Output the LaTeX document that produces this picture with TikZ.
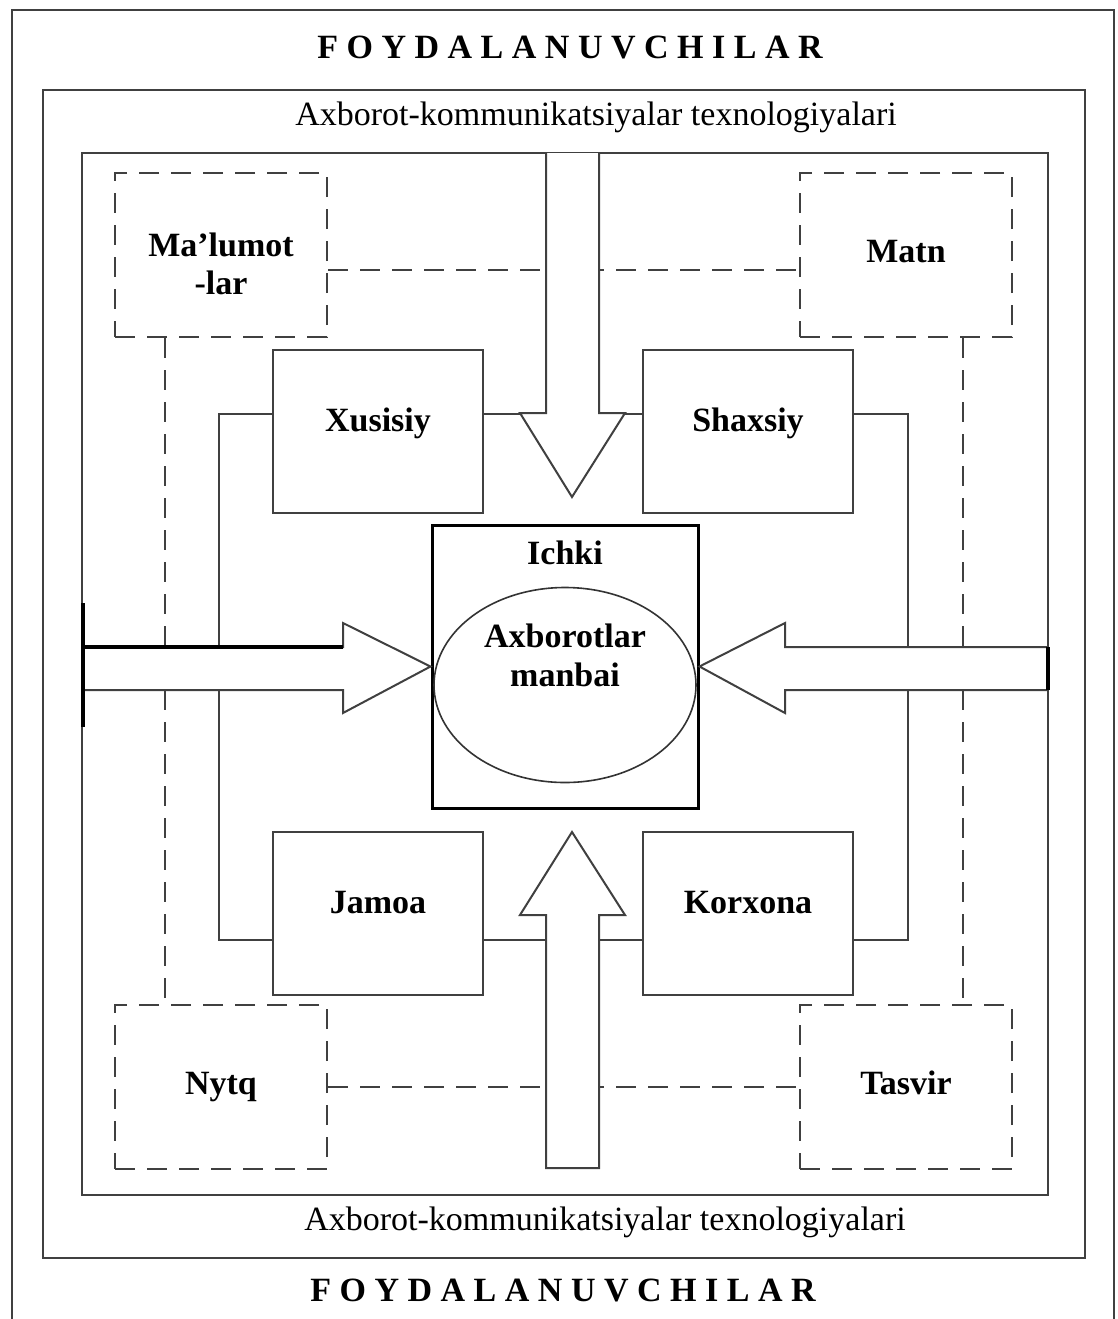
\documentclass[tikz,border=0pt]{standalone}
\usepackage{fontspec}
\setmainfont{Liberation Serif}
\usetikzlibrary{shapes.geometric}

\begin{document}
\begin{tikzpicture}[x=0.5pt,y=-0.5pt,
  line/.style={draw=black!75,line width=1pt},
  box/.style={line,rectangle,fill=white,inner sep=0pt,minimum width=105pt,minimum height=81.5pt,
    text height=12pt,text depth=12pt,align=center,font=\fontsize{17}{19}\selectfont\bfseries},
  dbox/.style={box,minimum width=106pt,minimum height=82pt,text depth=5pt,line width=1.3pt,dash pattern=on 10pt off 6pt},
  dline/.style={line,line width=1.3pt,dash pattern=on 10pt off 6pt},
  blk/.style={line,fill=white,line join=miter},
  foy/.style={font=\fontsize{17}{19}\selectfont\bfseries},
  akt/.style={font=\fontsize{17}{19}\selectfont}]
\useasboundingbox (0,0) rectangle (1118,1319);
% frames
\draw[line,line width=1.2pt] (12,1319) -- (12,10) -- (1114,10) -- (1114,1319);
\draw[line,line width=1.2pt] (43,90) rectangle (1085,1258);
\draw[line,line width=1.2pt] (82,153) rectangle (1048,1195);
\node[foy] (foyT) at (570,47) {F O Y D A L A N U V C H I L A R};
\node[foy] (foyB) at (563,1290) {F O Y D A L A N U V C H I L A R};
\node[akt] (aktT) at (596,117) {Axborot-kommunikatsiyalar texnologiyalari};
\node[akt] (aktB) at (605,1222) {Axborot-kommunikatsiyalar texnologiyalari};
% boxes
\node[dbox,text height=53pt,text depth=14pt] (mal) at (221,255) {Ma’lumot\\-lar};
\node[dbox] (mat) at (906,255) {Matn};
\node[dbox] (nyt) at (221,1087) {Nytq};
\node[dbox] (tas) at (906,1087) {Tasvir};
\node[box] (xus) at (378,431.5) {Xusisiy};
\node[box] (sha) at (748,431.5) {Shaxsiy};
\node[box] (jam) at (378,913.5) {Jamoa};
\node[box] (kor) at (748,913.5) {Korxona};
\node[box,draw=black,line width=1.5pt,minimum width=133pt,minimum height=141.5pt,
  label={[anchor=north,yshift=-5pt,font=\fontsize{17}{19}\selectfont\bfseries]north:Ichki}] (ich) at (565,666.5) {};
\node[ellipse,draw=black!80,line width=0.8pt,inner sep=0pt,minimum width=131pt,minimum height=97.5pt,
  label={[align=center,yshift=15pt,font=\fontsize{17}{19.5}\selectfont\bfseries]center:Axborotlar\\manbai}] (man) at (565,685) {};
% connectors
\draw[line] ([yshift=9pt]xus.west) -- ++(-53,0) |- ([yshift=-13pt]jam.west);
\draw[line] ([yshift=9pt]sha.east) -- ++(54,0) |- ([yshift=-13pt]kor.east);
\draw[line] ([yshift=9pt]xus.east) -- ([yshift=9pt]sha.west);
\draw[line] ([yshift=-13pt]jam.east) -- ([yshift=-13pt]kor.west);
\draw[dline] ([yshift=-7.5pt]mal.east) -- ([yshift=-7.5pt]mat.west);
\draw[dline] (nyt.east) -- (tas.west);
\draw[dline] ([xshift=-28pt]mal.south) -- ([xshift=-28pt]nyt.north);
\draw[dline] ([xshift=28.5pt]mat.south) -- ([xshift=28.5pt]tas.north);
% block arrows
\draw[blk] (546,153) -- (546,413) -- (520,413) -- (572,497) -- (625,413) -- (599,413) -- (599,153);
\draw[blk] (546,1168) -- (546,915) -- (520,915) -- (572,832) -- (625,915) -- (599,915) -- (599,1168) -- cycle;
\draw[blk] (83,647) -- (343,647) -- (343,623) -- (ich.west) -- (343,713) -- (343,690) -- (83,690);
\draw[blk] (1048,647) -- (785,647) -- (785,623) -- (ich.east) -- (785,713) -- (785,690) -- (1048,690);
\draw[black,line width=1.6pt] (83,647) -- (343,647);
\draw[black,line width=2pt] (83,603) -- (83,727);
\draw[black,line width=2pt] (1048,647) -- (1048,690);
\end{tikzpicture}
\end{document}
